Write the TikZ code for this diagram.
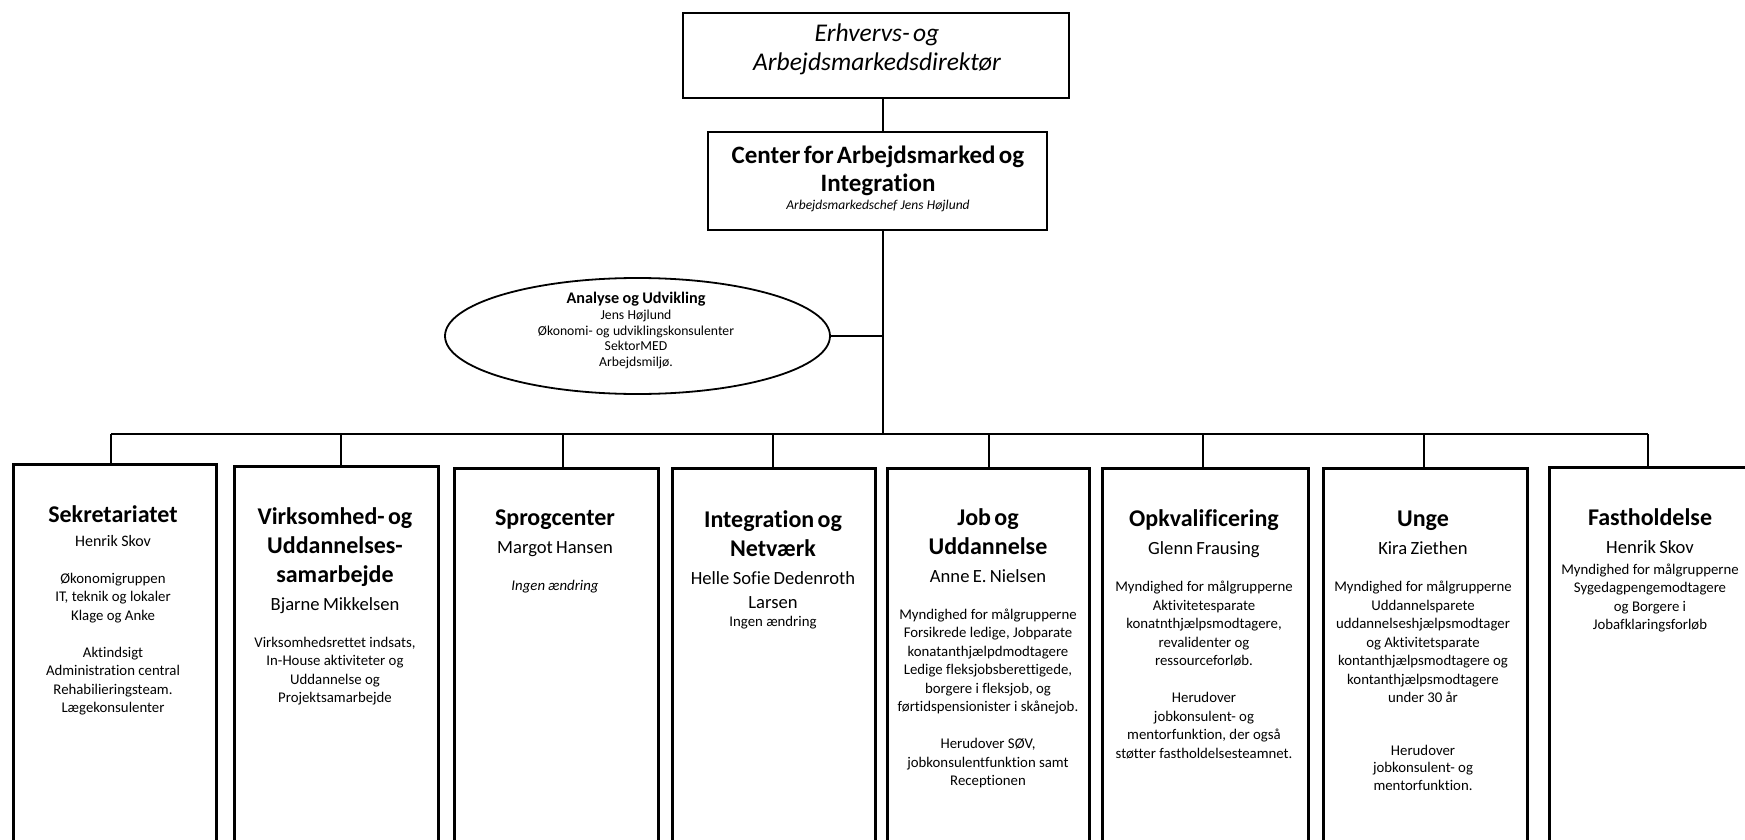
\documentclass[tikz,border=0pt]{standalone}
\usepackage{fontspec}
\setmainfont{Carlito}[RawFeature={-liga;-clig;-calt}]
\usetikzlibrary{shapes.geometric}
\newcommand\ttlf{\fontsize{24}{29}\selectfont\bfseries}
\newcommand\nmf{\fontsize{18.6}{28}\selectfont\mdseries}
\newcommand\nmsf{\fontsize{16}{24}\selectfont\mdseries}
\newcommand\smf{\fontsize{14.8}{18.5}\selectfont\mdseries}
\begin{document}
\begin{tikzpicture}[x=1pt,y=-1pt,
  unit/.style={draw, line width=2.8pt, fill=white, inner sep=0pt, anchor=north west, minimum height=420pt},
  headbox/.style={draw, line width=2.8pt, fill=white, inner sep=0pt},
  conn/.style={line width=1.4pt},
  txt/.style={align=center, text width=236pt, inner sep=0pt, anchor=base},
  oval/.style={draw, ellipse, line width=1.8pt, inner sep=0pt, minimum width=385pt, minimum height=116pt}]
\useasboundingbox (0,0) rectangle (1745,840);
\clip (0,0) rectangle (1745,840);
\fill[white] (0,0) rectangle (1745,840);

% top boxes
\node[headbox, minimum width=386pt, minimum height=85pt] (dir) at (876,55.5) {};
\node[txt, text width=370pt] (dirt) at (877,42) {\fontsize{25.5}{29}\selectfont\itshape Erhvervs- og\\ Arbejdsmarkedsdirektør\par};
\node[headbox, minimum width=339pt, minimum height=98pt] (cen) at (877.5,181) {};
\node[txt, text width=330pt] (cent) at (878,164) {\fontsize{25}{28}\selectfont\bfseries Center for Arbejdsmarked og\\ Integration\\ \fontsize{13.5}{18}\selectfont\mdseries\itshape Arbejdsmarkedschef Jens Højlund\par};

% ellipse
\node[oval] (ana) at (637.5,336) {};
\node[txt] (anat) at (636,303.5) {\fontsize{16.2}{18}\selectfont\bfseries Analyse og Udvikling\\ \fontsize{13.7}{15.8}\selectfont\mdseries Jens Højlund\\ Økonomi- og udviklingskonsulenter\\ SektorMED\\ Arbejdsmiljø.\par};

% unit boxes
\node[unit, minimum width=203pt] (b1) at (12,463) {};
\node[unit, minimum width=204pt] (b2) at (233,465) {};
\node[unit, minimum width=204pt] (b3) at (453,467) {};
\node[unit, minimum width=203pt] (b4) at (671,467) {};
\node[unit, minimum width=202pt] (b5) at (886,467) {};
\node[unit, minimum width=206pt] (b6) at (1101,467) {};
\node[unit, minimum width=204pt] (b7) at (1322,467) {};
\node[unit, minimum width=204pt] (b8) at (1548,466) {};

% connectors
\coordinate (trk) at (883,434);
\coordinate (d1) at (111,434);
\coordinate (d2) at (341,434);
\coordinate (d3) at (563,434);
\coordinate (d4) at (773,434);
\coordinate (d5) at (989,434);
\coordinate (d6) at (1203,434);
\coordinate (d7) at (1424,434);
\coordinate (d8) at (1648,434);
\draw[conn] (dir.south -| trk) -- (cen.north -| trk);
\draw[conn] (cen.south -| trk) -- (trk);
\draw[conn] (ana.east) -- (ana.east -| trk);
\draw[conn] (d1) -- (d8);
\foreach \i in {1,...,8} \draw[conn] (d\i) -- (d\i |- b\i.north);

% unit texts
\node[txt] (t1) at (113,522) {\ttlf Sekretariatet\\ \nmsf Henrik Skov\\[18.5pt] \smf Økonomigruppen\\ IT, teknik og lokaler\\ Klage og Anke\\[18.5pt] Aktindsigt\\ Administration central\\ Rehabilieringsteam.\\ Lægekonsulenter\par};
\node[txt] (t2) at (335,524) {\ttlf Virksomhed- og\\ Uddannelses-\\ samarbejde\\ \nmf Bjarne Mikkelsen\\[18.5pt] \smf Virksomhedsrettet indsats,\\ In-House aktiviteter og\\ Uddannelse og\\ Projektsamarbejde\par};
\node[txt] (t3) at (555,525) {\ttlf Sprogcenter\\ \nmf Margot Hansen\\[18.5pt] \smf\itshape Ingen ændring\par};
\node[txt] (t4) at (773,527) {\ttlf Integration og\\ Netværk\\ \nmf Helle Sofie Dedenroth\\[-4pt] Larsen\\ \smf Ingen ændring\par};
\node[txt] (t5) at (988,525) {\ttlf Job og\\ Uddannelse\\ \nmf Anne E. Nielsen\\[18.5pt] \smf Myndighed for målgrupperne\\ Forsikrede ledige, Jobparate\\ konatanthjælpdmodtagere\\ Ledige fleksjobsberettigede,\\ borgere i fleksjob, og\\ førtidspensionister i skånejob.\\[18.5pt] Herudover SØV,\\ jobkonsulentfunktion samt\\ Receptionen\par};
\node[txt] (t6) at (1204,526) {\ttlf Opkvalificering\\ \nmf Glenn Frausing\\[19pt] \smf Myndighed for målgrupperne\\ Aktivitetesparate\\ konatnthjælpsmodtagere,\\ revalidenter og\\ ressourceforløb.\\[18.5pt] Herudover\\ jobkonsulent- og\\ mentorfunktion, der også\\ støtter fastholdelsesteamnet.\par};
\node[txt] (t7) at (1423,526) {\ttlf Unge\\ \nmf Kira Ziethen\\[19pt] \smf Myndighed for målgrupperne\\ Uddannelsparete\\ uddannelseshjælpsmodtager\\ og Aktivitetsparate\\ kontanthjælpsmodtagere og\\ kontanthjælpsmodtagere\\ under 30 år\\[34pt] Herudover\\ \fontsize{14.8}{17.8}\selectfont jobkonsulent- og\\ mentorfunktion.\par};
\node[txt] (t8) at (1650,525) {\ttlf Fastholdelse\\ \nmf Henrik Skov\\[2.5pt] \smf Myndighed for målgrupperne\\ Sygedagpengemodtagere\\ og Borgere i\\ Jobafklaringsforløb\par};
\end{tikzpicture}
\end{document}
